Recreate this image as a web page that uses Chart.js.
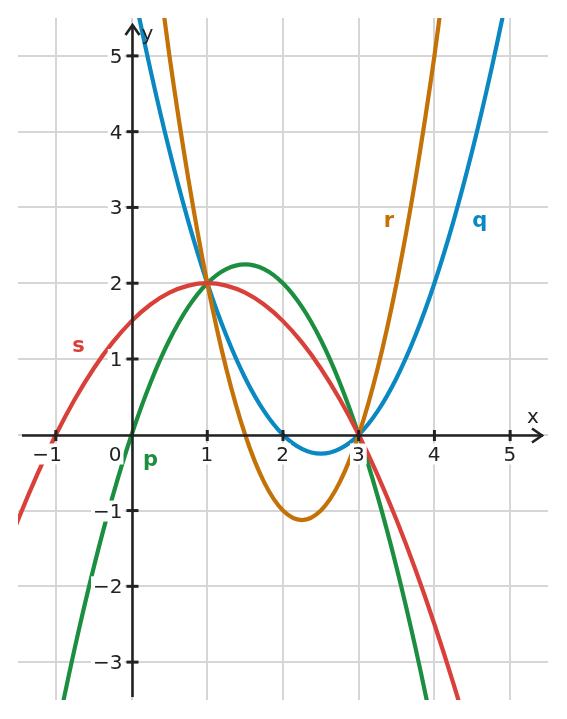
<!DOCTYPE html>
<html>
<head>
<meta charset="utf-8">
<script src="https://cdn.jsdelivr.net/npm/chart.js@4"></script>
<style>
  html, body { margin: 0; padding: 0; background: #fff; }
  #wrap { width: 567px; height: 719px; }
</style>
</head>
<body>
<div id="wrap"><canvas id="graphChart"></canvas></div>
<script>

const pX = [-1.25, -1, -0.75, -0.5, -0.25, 0, 0.25, 0.5, 0.75, 1, 1.25, 1.5, 1.75, 2, 2.25, 2.5, 2.75, 3, 3.25, 3.5, 3.75, 4, 4.25]
const pY = [-5.3125, -4, -2.8125, -1.75, -0.8125, 0, 0.6875, 1.25, 1.6875, 2, 2.1875, 2.25, 2.1875, 2, 1.6875, 1.25, 0.6875, 0, -0.8125, -1.75, -2.8125, -4, -5.3125]

const qX = [-0.25, 0, 0.25, 0.5, 0.75, 1, 1.25, 1.5, 1.75, 2, 2.25, 2.5, 2.75, 3, 3.25, 3.5, 3.75, 4, 4.25, 4.5, 4.75, 5, 5.25]
const qY = [7.3125, 6, 4.8125, 3.75, 2.8125, 2, 1.3125, 0.75, 0.3125, 0, -0.1875, -0.25, -0.1875, 0, 0.3125, 0.75, 1.3125, 2, 2.8125, 3.75, 4.8125, 6, 7.3125]

const rX = [0, 0.25, 0.5, 0.75, 1, 1.25, 1.5, 1.75, 2, 2.25, 2.5, 2.75, 3, 3.25, 3.5, 3.75, 4, 4.25, 4.5]
const rY = [9, 6.875, 5, 3.375, 2, 0.875, 0, -0.625, -1, -1.125, -1, -0.625, 0, 0.875, 2, 3.375, 5, 6.875, 9]

const sX = [-1.75, -1.5, -1.25, -1, -0.75, -0.5, -0.25, 0, 0.25, 0.5, 0.75, 1, 1.25, 1.5, 1.75, 2, 2.25, 2.5, 2.75, 3, 3.25, 3.5, 3.75, 4, 4.25, 4.5, 4.75]
const sY = [-1.78125, -1.125, -0.53125, 0, 0.46875, 0.875, 1.21875, 1.5, 1.71875, 1.875, 1.96875, 2, 1.96875, 1.875, 1.71875, 1.5, 1.21875, 0.875, 0.46875, 0, -0.53125, -1.125, -1.78125, -2.5, -3.28125, -4.125, -5.03125]

const xGrid = [-1, 0, 1, 2, 3, 4, 5]
const yGrid = [-3, -2, -1, 0, 1, 2, 3, 4, 5]
const xTickLabels = [-1, 1, 2, 3, 4, 5]
const yTickLabels = [-3, -2, -1, 1, 2, 3, 4, 5]

const curveNames = ["p", "q", "r", "s"]
const curveColors = ["#1b8f3f", "#0a88c2", "#c47208", "#d9403a"]
// where each name sits (in graph units)
const nameX = [0.25, 4.6, 3.4, -0.7]
const nameY = [-0.3, 2.85, 2.85, 1.2]

function pts(xs, ys){
    return xs.map(function(v, i){ return {x: v, y: ys[i]} })
}

function fmt(v){
    return v < 0 ? "\u2212" + Math.abs(v) : String(v)
}

const axesPlugin = {
    id: "axesPlugin",
    afterDatasetsDraw(chart){
        const ctx = chart.ctx
        const a = chart.chartArea
        const xs = chart.scales.x
        const ys = chart.scales.y
        const x0 = Math.round(xs.getPixelForValue(0)) + 0.5
        const y0 = Math.round(ys.getPixelForValue(0)) + 0.5

        ctx.save()
        ctx.strokeStyle = "#222"
        ctx.lineWidth = 2.6
        ctx.lineCap = "butt"

        // x axis + arrow
        ctx.beginPath()
        ctx.moveTo(a.left + 4, y0)
        ctx.lineTo(a.right - 5, y0)
        ctx.stroke()
        ctx.beginPath()
        ctx.moveTo(a.right - 16, y0 - 7)
        ctx.lineTo(a.right - 6, y0)
        ctx.lineTo(a.right - 16, y0 + 7)
        ctx.stroke()

        // y axis + arrow
        ctx.beginPath()
        ctx.moveTo(x0, a.bottom - 3)
        ctx.lineTo(x0, a.top + 7)
        ctx.stroke()
        ctx.beginPath()
        ctx.moveTo(x0 - 7, a.top + 17)
        ctx.lineTo(x0, a.top + 7)
        ctx.lineTo(x0 + 7, a.top + 17)
        ctx.stroke()

        // tick marks
        ctx.lineWidth = 3
        xTickLabels.forEach(function(v){
            const px = xs.getPixelForValue(v)
            ctx.beginPath()
            ctx.moveTo(px, y0 - 5.5)
            ctx.lineTo(px, y0 + 5.5)
            ctx.stroke()
        })
        yTickLabels.forEach(function(v){
            const py = ys.getPixelForValue(v)
            ctx.beginPath()
            ctx.moveTo(x0 - 6, py)
            ctx.lineTo(x0 + 6, py)
            ctx.stroke()
        })

        // tick labels with white backdrop
        ctx.font = "20px 'DejaVu Sans'"
        ctx.textBaseline = "alphabetic"
        ctx.textAlign = "right"
        function label(txt, right, base){
            const w = ctx.measureText(txt).width
            ctx.fillStyle = "#fff"
            ctx.fillRect(right - w - 2, base - 17, w + 4, 21)
            ctx.fillStyle = "#222"
            ctx.fillText(txt, right, base)
        }
        xTickLabels.forEach(function(v){
            label(fmt(v), xs.getPixelForValue(v) + 6, y0 + 25)
        })
        yTickLabels.forEach(function(v){
            label(fmt(v), x0 - 10, ys.getPixelForValue(v) + 7)
        })
        label("0", x0 - 11, y0 + 25)

        // axis names
        ctx.fillStyle = "#222"
        ctx.textAlign = "center"
        ctx.fillText("x", a.right - 15, y0 - 13)
        ctx.fillText("y", x0 + 15, a.top + 22)

        // curve names
        ctx.font = "bold 21px 'DejaVu Sans'"
        curveNames.forEach(function(n, i){
            ctx.fillStyle = curveColors[i]
            ctx.fillText(n, xs.getPixelForValue(nameX[i]), ys.getPixelForValue(nameY[i]) + 8)
        })
        ctx.restore()
    }
}

function curve(label, xs, ys, i){
    return {
        label: label,
        data: pts(xs, ys),
        borderColor: curveColors[i],
        borderWidth: 4.2,
        pointRadius: 0,
        fill: false,
        cubicInterpolationMode: "monotone",
        order: 4 - i
    }
}

new Chart(document.getElementById("graphChart"), {

    type: "line",

    data: {
        datasets: [
            curve("p", pX, pY, 0),
            curve("q", qX, qY, 1),
            curve("r", rX, rY, 2),
            curve("s", sX, sY, 3)
        ]
    },

    options: {
        responsive: true,
        maintainAspectRatio: false,
        animation: false,
        layout: {
            padding: {left: 18, right: 19, top: 18, bottom: 19}
        },
        elements: {
            line: {capBezierPoints: false}
        },
        plugins: {
            legend: {display: false},
            tooltip: {enabled: false}
        },
        scales: {
            x: {
                type: "linear",
                min: -1.5,
                max: 5.5,
                afterBuildTicks: function(s){ s.ticks = xGrid.map(function(v){ return {value: v} }) },
                ticks: {display: false},
                border: {display: false},
                grid: {color: "#d6d6d6", lineWidth: 2, drawTicks: false}
            },
            y: {
                type: "linear",
                min: -3.5,
                max: 5.5,
                afterBuildTicks: function(s){ s.ticks = yGrid.map(function(v){ return {value: v} }) },
                ticks: {display: false},
                border: {display: false},
                grid: {color: "#d6d6d6", lineWidth: 2, drawTicks: false}
            }
        }
    },

    plugins: [axesPlugin]
})

</script>
</body>
</html>
